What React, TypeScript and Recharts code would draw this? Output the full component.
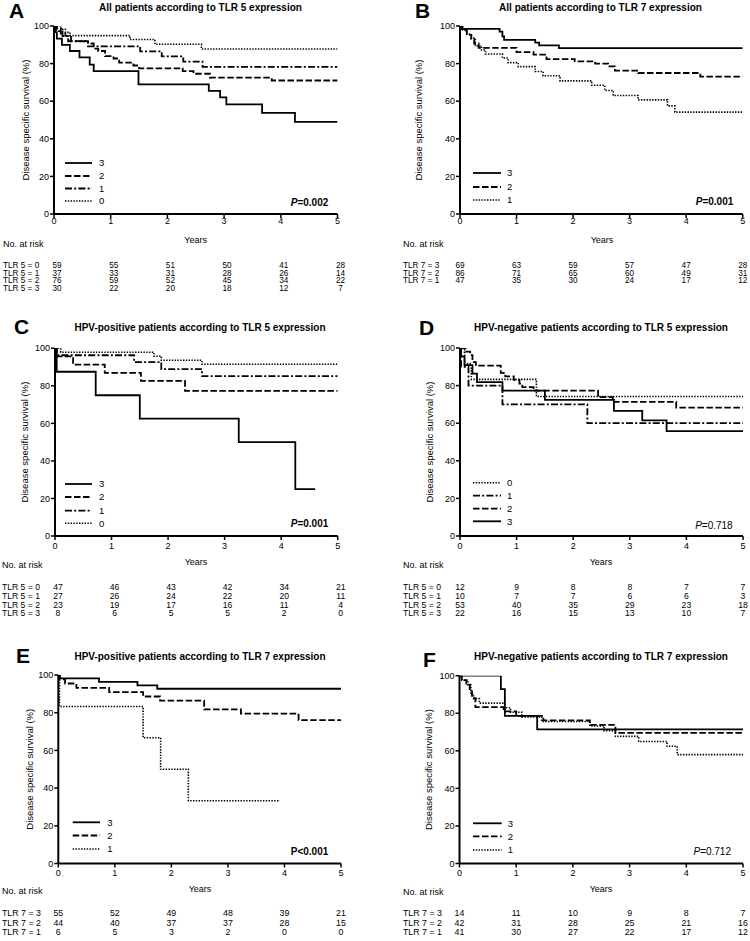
import React from 'react';
import { LineChart, Line, XAxis, YAxis } from 'recharts';

type Pt = [number, number];

const YEARS = [0, 1, 2, 3, 4, 5];
const SURVIVAL_TICKS = [0, 20, 40, 60, 80, 100];

// ---------- Panel A: all patients, TLR 5 ----------
const A_TLR5_3: Pt[] = [[0,100],[0.02,96.7],[0.05,93.3],[0.14,90],[0.28,86.7],[0.45,83.3],[0.63,79.5],[0.7,76],[1.49,69],[2.73,65.5],[2.93,62],[3.04,58.3],[3.67,53.8],[4.25,49],[5,49]];
const A_TLR5_2: Pt[] = [[0,100],[0.05,98.7],[0.12,96],[0.2,94.7],[0.3,92],[0.6,90.7],[0.7,88],[0.78,86.7],[0.9,84],[1.05,82.7],[1.15,80.5],[1.4,79],[1.5,77.5],[2.27,76],[2.46,74.6],[2.75,72.5],[3.84,71],[5,71]];
const A_TLR5_1: Pt[] = [[0,100],[0.04,97.3],[0.15,94.6],[0.25,91.9],[0.6,89.2],[1.52,86.5],[1.9,83.8],[2.28,81.1],[2.62,78.3],[5,78.3]];
const A_TLR5_0: Pt[] = [[0,100],[0.12,98.3],[0.2,96.6],[0.28,94.9],[1.34,92.8],[1.78,90.3],[2.6,87.8],[5,87.8]];
const A_RISK_LABELS = ['TLR 5 = 0', 'TLR 5 = 1', 'TLR 5 = 2', 'TLR 5 = 3'];
const A_RISK_0 = [59, 55, 51, 50, 41, 28];
const A_RISK_1 = [37, 33, 31, 28, 26, 14];
const A_RISK_2 = [76, 59, 52, 45, 34, 22];
const A_RISK_3 = [30, 22, 20, 18, 12, 7];

// ---------- Panel B: all patients, TLR 7 ----------
const B_TLR7_3: Pt[] = [[0,100],[0.03,98.5],[0.7,97],[0.75,94.5],[0.78,92.6],[1.33,91.2],[1.4,89.7],[1.75,88.2],[5,88.2]];
const B_TLR7_2: Pt[] = [[0,100],[0.04,97.7],[0.12,95.3],[0.2,93],[0.25,90.7],[0.33,88.4],[1.0,86.1],[1.3,84.8],[1.53,82.4],[2.03,81.2],[2.39,80],[2.62,78.5],[2.74,76.3],[3.15,75],[4.25,73.1],[5,73.1]];
const B_TLR7_1: Pt[] = [[0,100],[0.05,97.9],[0.12,95.7],[0.2,93.6],[0.27,89.4],[0.38,87.2],[0.45,85.1],[0.75,83],[0.85,80.5],[1.03,78.4],[1.33,75.8],[1.47,73.5],[1.77,70.8],[2.33,68.5],[2.56,65.7],[2.71,63],[3.15,60.7],[3.67,57.5],[3.8,54.2],[5,54.2]];
const B_RISK_LABELS = ['TLR 7 = 3', 'TLR 7 = 2', 'TLR 7 = 1'];
const B_RISK_3 = [69, 63, 59, 57, 47, 28];
const B_RISK_2 = [86, 71, 65, 60, 49, 31];
const B_RISK_1 = [47, 35, 30, 24, 17, 12];

// ---------- Panel C: HPV-positive, TLR 5 ----------
const C_TLR5_3: Pt[] = [[0,100],[0.03,87.5],[0.72,75],[1.5,62.5],[3.25,50],[4.25,25],[4.6,25]];
const C_TLR5_2: Pt[] = [[0,100],[0.03,95.7],[0.32,91.3],[0.88,86.9],[1.52,82.6],[2.3,77.3],[5,77.3]];
const C_TLR5_1: Pt[] = [[0,100],[0.03,96.3],[1.4,92.6],[1.88,88.9],[2.6,85.2],[5,85.2]];
const C_TLR5_0: Pt[] = [[0,100],[0.1,97.9],[1.75,95.8],[1.88,93.6],[2.6,91.5],[5,91.5]];
const C_RISK_LABELS = ['TLR 5 = 0', 'TLR 5 = 1', 'TLR 5 = 2', 'TLR 5 = 3'];
const C_RISK_0 = [47, 46, 43, 42, 34, 21];
const C_RISK_1 = [27, 26, 24, 22, 20, 11];
const C_RISK_2 = [23, 19, 17, 16, 11, 4];
const C_RISK_3 = [8, 6, 5, 5, 2, 0];

// ---------- Panel D: HPV-negative, TLR 5 ----------
const D_TLR5_0: Pt[] = [[0,100],[0.08,91.7],[0.2,83.3],[1.35,74.2],[5,74.2]];
const D_TLR5_1: Pt[] = [[0,100],[0.02,90],[0.15,80],[0.75,70],[2.25,60],[5,60]];
const D_TLR5_2: Pt[] = [[0,100],[0.1,98.1],[0.18,96.2],[0.22,92.5],[0.28,90.6],[0.72,86.8],[0.8,84.9],[0.95,83],[1.05,81.1],[1.1,79.2],[1.3,77.3],[2.44,73.9],[2.7,71.3],[3.82,68.3],[5,68.3]];
const D_TLR5_3: Pt[] = [[0,100],[0.02,95.5],[0.08,90.9],[0.22,86.4],[0.3,81.8],[0.75,77.3],[1.5,72.4],[2.72,66.6],[3.22,61.5],[3.65,55.8],[5,55.8]];
const D_RISK_LABELS = ['TLR 5 = 0', 'TLR 5 = 1', 'TLR 5 = 2', 'TLR 5 = 3'];
const D_RISK_0 = [12, 9, 8, 8, 7, 7];
const D_RISK_1 = [10, 7, 7, 6, 6, 3];
const D_RISK_2 = [53, 40, 35, 29, 23, 18];
const D_RISK_3 = [22, 16, 15, 13, 10, 7];

// ---------- Panel E: HPV-positive, TLR 7 ----------
const E_TLR7_3: Pt[] = [[0,100],[0.03,98.2],[0.72,96.4],[1.4,94.5],[1.75,92.7],[5,92.7]];
const E_TLR7_2: Pt[] = [[0,100],[0.02,97.7],[0.12,95.5],[0.32,93.2],[0.9,90.9],[1.5,88.6],[1.8,86.4],[2.58,81.8],[3.23,79.5],[4.25,76.1],[5,76.1]];
const E_TLR7_1: Pt[] = [[0,100],[0.02,83.3],[1.5,66.7],[1.81,50],[2.3,33.3],[3.92,33.3]];
const E_RISK_LABELS = ['TLR 7 = 3', 'TLR 7 = 2', 'TLR 7 = 1'];
const E_RISK_3 = [55, 52, 49, 48, 39, 21];
const E_RISK_2 = [44, 40, 37, 37, 28, 15];
const E_RISK_1 = [6, 5, 3, 2, 0, 0];

// ---------- Panel F: HPV-negative, TLR 7 ----------
const F_TLR7_3: Pt[] = [[0,100],[0.73,92.9],[0.8,78.6],[1.37,71.4],[5,71.4]];
const F_TLR7_2: Pt[] = [[0,100],[0.04,97.6],[0.12,95.2],[0.18,92.9],[0.22,88.1],[0.28,83.3],[0.78,81],[1.0,78.6],[1.48,76.2],[2.3,73.8],[2.75,69.6],[5,69.6]];
const F_TLR7_1: Pt[] = [[0,100],[0.04,97.6],[0.15,95.1],[0.2,90.2],[0.25,87.8],[0.35,85.4],[0.8,82.9],[0.9,80.5],[1.1,78],[1.45,75.6],[2.3,73.2],[2.55,70.7],[2.75,67.7],[3.16,65],[3.66,62.4],[3.84,58],[5,58]];
const F_RISK_LABELS = ['TLR 7 = 3', 'TLR 7 = 2', 'TLR 7 = 1'];
const F_RISK_3 = [14, 11, 10, 9, 8, 7];
const F_RISK_2 = [42, 31, 28, 25, 21, 16];
const F_RISK_1 = [41, 30, 27, 22, 17, 12];

// ---------- styles ----------
const FONT = '"Liberation Sans", Arial, Helvetica, sans-serif';
const SOLID = '';
const DASHED = '6.5 2.5';
const DASHDOT = '7 2.2 2 2.2';
const DOTTED = '1.4 1.4';
const W = 750;
const H = 941;
const Y_AXIS_W = 30;
const X_AXIS_H = 20;

type Series = { name: string; data: Pt[]; dash: string };
type Panel = {
  letter: string; letterX: number; letterY: number;
  title: string; titleX: number; titleY: number;
  plot: { left: number; right: number; top: number; bottom: number };
  tickBase: number;
  ylabX: number;
  series: Series[];
  legend: { x1: number; x2: number; tx: number; ys: number[] };
  p: { x: number; y: number; bold: boolean; italic: boolean; rest: string };
  years: { x: number; y: number };
  risk: { labelX: number; headY: number; dx: number; ys: number[]; fs: number; labels: string[]; rows: number[][] };
};

const PANELS: Panel[] = [
  {
    letter: 'A', letterX: 9, letterY: 18, title: 'All patients according to TLR 5 expression', titleX: 200.5, titleY: 11,
    plot: { left: 54, right: 337.5, top: 26, bottom: 214 }, tickBase: 224.3, ylabX: 25,
    series: [
      { name: '3', data: A_TLR5_3, dash: SOLID }, { name: '2', data: A_TLR5_2, dash: DASHED },
      { name: '1', data: A_TLR5_1, dash: DASHDOT }, { name: '0', data: A_TLR5_0, dash: DOTTED },
    ],
    legend: { x1: 65, x2: 92, tx: 99, ys: [163, 176, 188.5, 201] },
    p: { x: 328.3, y: 205.5, bold: true, italic: true, rest: '=0.002' },
    years: { x: 195.7, y: 242.8 },
    risk: { labelX: 3, headY: 246.8, dx: 3, ys: [268, 275.7, 283.4, 291.1], fs: 8.2, labels: A_RISK_LABELS, rows: [A_RISK_0, A_RISK_1, A_RISK_2, A_RISK_3] },
  },
  {
    letter: 'B', letterX: 415, letterY: 17.5, title: 'All patients according to TLR 7 expression', titleX: 600.5, titleY: 11,
    plot: { left: 460, right: 742.7, top: 26, bottom: 214 }, tickBase: 224.3, ylabX: 418,
    series: [
      { name: '3', data: B_TLR7_3, dash: SOLID }, { name: '2', data: B_TLR7_2, dash: DASHED },
      { name: '1', data: B_TLR7_1, dash: DOTTED },
    ],
    legend: { x1: 473, x2: 501, tx: 507, ys: [173, 187, 200] },
    p: { x: 733.3, y: 205.2, bold: true, italic: true, rest: '=0.001' },
    years: { x: 602, y: 243.3 },
    risk: { labelX: 403, headY: 247.3, dx: 0, ys: [268, 275.7, 283.4], fs: 8.2, labels: B_RISK_LABELS, rows: [B_RISK_3, B_RISK_2, B_RISK_1] },
  },
  {
    letter: 'C', letterX: 14, letterY: 334, title: 'HPV-positive patients according to TLR 5 expression', titleX: 200, titleY: 331,
    plot: { left: 55, right: 337.7, top: 348.3, bottom: 536 }, tickBase: 549, ylabX: 25,
    series: [
      { name: '3', data: C_TLR5_3, dash: SOLID }, { name: '2', data: C_TLR5_2, dash: DASHED },
      { name: '1', data: C_TLR5_1, dash: DASHDOT }, { name: '0', data: C_TLR5_0, dash: DOTTED },
    ],
    legend: { x1: 65, x2: 92, tx: 99, ys: [484, 497, 510.7, 523.3] },
    p: { x: 328.3, y: 526.8, bold: true, italic: true, rest: '=0.001' },
    years: { x: 196, y: 565 },
    risk: { labelX: 2, headY: 567.8, dx: 3, ys: [590.3, 599, 607.7, 616.4], fs: 8.6, labels: C_RISK_LABELS, rows: [C_RISK_0, C_RISK_1, C_RISK_2, C_RISK_3] },
  },
  {
    letter: 'D', letterX: 419, letterY: 335, title: 'HPV-negative patients according to TLR 5 expression', titleX: 601, titleY: 331,
    plot: { left: 460, right: 743, top: 348, bottom: 536 }, tickBase: 549, ylabX: 429,
    series: [
      { name: '0', data: D_TLR5_0, dash: DOTTED }, { name: '1', data: D_TLR5_1, dash: DASHDOT },
      { name: '2', data: D_TLR5_2, dash: DASHED }, { name: '3', data: D_TLR5_3, dash: SOLID },
    ],
    legend: { x1: 473, x2: 501, tx: 507, ys: [482.7, 495.7, 508.7, 521.3] },
    p: { x: 732.7, y: 528.5, bold: false, italic: true, rest: '=0.718' },
    years: { x: 601, y: 565 },
    risk: { labelX: 403, headY: 568.3, dx: 0, ys: [590.3, 599, 607.7, 616.4], fs: 8.6, labels: D_RISK_LABELS, rows: [D_RISK_0, D_RISK_1, D_RISK_2, D_RISK_3] },
  },
  {
    letter: 'E', letterX: 16, letterY: 662.7, title: 'HPV-positive patients according to TLR 7 expression', titleX: 200, titleY: 659.5,
    plot: { left: 58.3, right: 341, top: 675, bottom: 863.5 }, tickBase: 875.5, ylabX: 29.5,
    series: [
      { name: '3', data: E_TLR7_3, dash: SOLID }, { name: '2', data: E_TLR7_2, dash: DASHED },
      { name: '1', data: E_TLR7_1, dash: DOTTED },
    ],
    legend: { x1: 72.7, x2: 100, tx: 107.3, ys: [822.3, 835.5, 849] },
    p: { x: 328.3, y: 855.2, bold: true, italic: false, rest: '<0.001' },
    years: { x: 200, y: 891.6 },
    risk: { labelX: 2, headY: 894, dx: 0, ys: [916.3, 925.5, 934.7], fs: 8.8, labels: E_RISK_LABELS, rows: [E_RISK_3, E_RISK_2, E_RISK_1] },
  },
  {
    letter: 'F', letterX: 423, letterY: 667, title: 'HPV-negative patients according to TLR 7 expression', titleX: 601, titleY: 659.5,
    plot: { left: 459.5, right: 743, top: 675.7, bottom: 863.5 }, tickBase: 875.5, ylabX: 429,
    series: [
      { name: '3', data: F_TLR7_3, dash: SOLID }, { name: '2', data: F_TLR7_2, dash: DASHED },
      { name: '1', data: F_TLR7_1, dash: DOTTED },
    ],
    legend: { x1: 473, x2: 501.7, tx: 507.7, ys: [823.3, 836.3, 850] },
    p: { x: 731, y: 855.2, bold: false, italic: true, rest: '=0.712' },
    years: { x: 601, y: 891.6 },
    risk: { labelX: 403, headY: 895, dx: 0, ys: [916.3, 925.5, 934.7], fs: 8.8, labels: F_RISK_LABELS, rows: [F_RISK_3, F_RISK_2, F_RISK_1] },
  },
];

const toRows = (pts: Pt[]) => pts.map(([t, s]) => ({ t, s }));

function KMChart({ cfg }: { cfg: Panel }) {
  const { plot } = cfg;
  const margin = {
    top: plot.top,
    left: plot.left - Y_AXIS_W,
    right: W - plot.right,
    bottom: H - plot.bottom - X_AXIS_H,
  };
  const renderTick = (props: any) => {
    const { x, payload } = props;
    const idx = YEARS.indexOf(payload.value);
    return (
      <g>
        <text x={x} y={cfg.tickBase} textAnchor="middle" fontSize={9} fontFamily={FONT} fill="#000">
          {payload.value}
        </text>
        {cfg.risk.rows.map((row, i) => (
          <text key={i} x={x + cfg.risk.dx} y={cfg.risk.ys[i]} textAnchor="middle" fontSize={cfg.risk.fs} fontFamily={FONT} fill="#000">
            {row[idx]}
          </text>
        ))}
      </g>
    );
  };
  return (
    <div style={{ position: 'absolute', left: 0, top: 0, width: W, height: H }}>
      <LineChart width={W} height={H} margin={margin}>
        <XAxis
          type="number" dataKey="t" domain={[0, 5]} ticks={YEARS} allowDataOverflow
          height={X_AXIS_H} tickSize={4}
          axisLine={{ stroke: '#000', strokeWidth: 2 }}
          tickLine={{ stroke: '#000', strokeWidth: 1.5 }}
          tick={renderTick}
          interval={0}
        />
        <YAxis
          type="number" domain={[0, 100]} ticks={SURVIVAL_TICKS} allowDataOverflow
          width={Y_AXIS_W} tickSize={4} tickMargin={1}
          axisLine={{ stroke: '#000', strokeWidth: 2 }}
          tickLine={{ stroke: '#000', strokeWidth: 1.5 }}
          tick={{ fontSize: 9, fontFamily: FONT, fill: '#000' }}
          interval={0}
        />
        {cfg.series.map((s) => (
          <Line
            key={s.name}
            data={toRows(s.data)}
            dataKey="s"
            type="stepAfter"
            stroke="#000"
            strokeWidth={s.dash === DOTTED ? 1.6 : 1.8}
            strokeDasharray={s.dash || undefined}
            dot={false}
            activeDot={false}
            isAnimationActive={false}
          />
        ))}
      </LineChart>
    </div>
  );
}

function Overlay() {
  return (
    <svg width={W} height={H} style={{ position: 'absolute', left: 0, top: 0, pointerEvents: 'none' }} fontFamily={FONT}>
      {PANELS.map((p) => {
        const midY = (p.plot.top + p.plot.bottom) / 2;
        return (
          <g key={p.letter}>
            <text x={p.letterX} y={p.letterY} fontSize={21} fontWeight="bold">{p.letter}</text>
            <text x={p.titleX} y={p.titleY} fontSize={10} fontWeight="bold" textAnchor="middle">{p.title}</text>
            <text
              x={p.ylabX} y={midY} fontSize={9.5} textAnchor="middle" dominantBaseline="central"
              transform={`rotate(-90 ${p.ylabX} ${midY})`}
            >
              Disease specific survival (%)
            </text>
            {p.series.map((s, i) => (
              <g key={s.name}>
                <line
                  x1={p.legend.x1} x2={p.legend.x2} y1={p.legend.ys[i]} y2={p.legend.ys[i]}
                  stroke="#000" strokeWidth={s.dash === DOTTED ? 1.6 : 1.8}
                  strokeDasharray={s.dash || undefined}
                />
                <text x={p.legend.tx} y={p.legend.ys[i] + 3.3} fontSize={9.5}>{s.name}</text>
              </g>
            ))}
            <text x={p.p.x} y={p.p.y} fontSize={10} fontWeight={p.p.bold ? 'bold' : 'normal'} textAnchor="end">
              <tspan fontStyle={p.p.italic ? 'italic' : 'normal'}>P</tspan>{p.p.rest}
            </text>
            <text x={p.years.x} y={p.years.y} fontSize={9} textAnchor="middle">Years</text>
            <text x={p.risk.labelX} y={p.risk.headY} fontSize={9}>No. at risk</text>
            {p.risk.labels.map((l, i) => (
              <text key={l} x={p.risk.labelX} y={p.risk.ys[i]} fontSize={p.risk.fs}>{l}</text>
            ))}
          </g>
        );
      })}
    </svg>
  );
}

export default function App() {
  return (
    <div style={{ position: 'absolute', left: 0, top: 0, width: W, height: H, background: '#fff', overflow: 'hidden' }}>
      {PANELS.map((p) => (
        <KMChart key={p.letter} cfg={p} />
      ))}
      <Overlay />
    </div>
  );
}
